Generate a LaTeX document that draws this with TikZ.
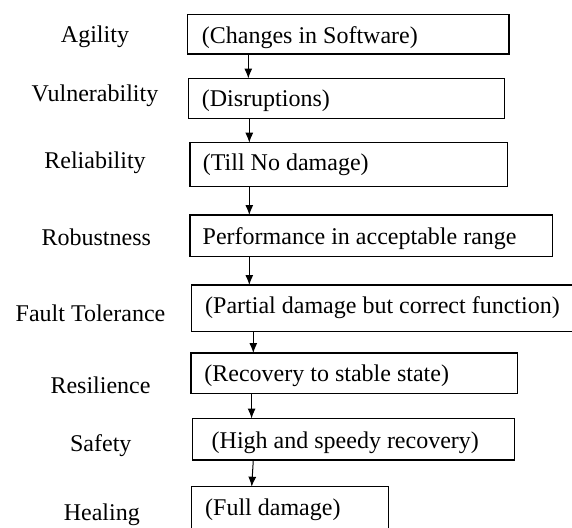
\documentclass[tikz,border=0pt]{standalone}
\usepackage{fontspec}
\setmainfont{Liberation Serif}
\usetikzlibrary{arrows.meta}
\begin{document}
\begin{tikzpicture}[x=1pt,y=-1pt,
  box/.style={draw=black, line width=1.2pt, inner sep=0pt, outer sep=0pt, anchor=north west},
  lbl/.style={anchor=base, inner sep=0pt, font=\fontsize{24}{28}\selectfont},
  txt/.style={anchor=base west, inner sep=0pt, font=\fontsize{24}{28}\selectfont},
  arr/.style={-{Latex[length=10pt,width=8pt]}, line width=1pt}]
\useasboundingbox (0,0) rectangle (572,527);
% boxes
\node[box, minimum width=321.7pt, minimum height=39.7pt] (b1) at (187.3,14.3) {};
\node[box, minimum width=316.5pt, minimum height=40pt]   (b2) at (188.3,78.5) {};
\node[box, minimum width=317.5pt, minimum height=44pt]   (b3) at (190,142.7) {};
\node[box, minimum width=362.7pt, minimum height=41.3pt] (b4) at (190,215) {};
\node[box, minimum width=390pt,   minimum height=46.3pt] (b5) at (191.2,285) {};
\node[box, minimum width=326.5pt, minimum height=40.3pt] (b6) at (191,353) {};
\node[box, minimum width=321.7pt, minimum height=41.5pt] (b7) at (192.5,418.5) {};
\node[box, minimum width=197.2pt, minimum height=60pt]   (b8) at (191.5,486.7) {};
% box texts
\node[txt] (t1) at (201.7,43.3) {(Changes in Software)};
\node[txt] (t2) at (201.7,106.7) {(Disruptions)};
\node[txt] (t3) at (202.7,170.7) {(Till No damage)};
\node[txt] (t4) at (202.5,244) {Performance in acceptable range};
\node[txt] (t5) at (205,313.5) {(Partial damage but correct function)};
\node[txt] (t6) at (204.2,381) {(Recovery to stable state)};
\node[txt] (t7) at (211.5,448) {(High and speedy recovery)};
\node[txt] (t8) at (205,515) {(Full damage)};
% left labels
\node[lbl] (l1) at (95,42.7) {Agility};
\node[lbl] (l2) at (95,101.7) {Vulnerability};
\node[lbl] (l3) at (95,168.3) {Reliability};
\node[lbl] (l4) at (96.3,245) {Robustness};
\node[lbl] (l5) at (90.5,321.7) {Fault Tolerance};
\node[lbl] (l6) at (100.5,393.3) {Resilience};
\node[lbl] (l7) at (100.8,451.7) {Safety};
\node[lbl] (l8) at (101.8,520) {Healing};
% arrows
\draw[arr] (248.3,0 |- b1.south) -- (248.3,0 |- b2.north);
\draw[arr] (249.3,0 |- b2.south) -- (249.3,0 |- b3.north);
\draw[arr] (249.3,0 |- b3.south) -- (249.3,0 |- b4.north);
\draw[arr] (249.3,0 |- b4.south) -- (249.3,0 |- b5.north);
\draw[arr] (253.3,0 |- b5.south) -- (253.3,0 |- b6.north);
\draw[arr] (251.6,0 |- b6.south) -- (251.6,0 |- b7.north);
\draw[arr] (253.3,0 |- b7.south) -- (251.7,0 |- b8.north);
\end{tikzpicture}
\end{document}
